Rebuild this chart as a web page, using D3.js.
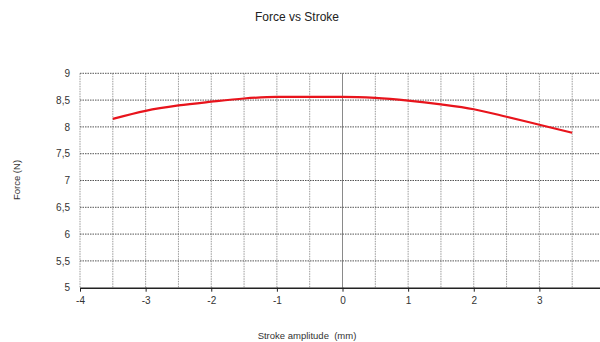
<!DOCTYPE html>
<html>
<head>
<meta charset="utf-8">
<script src="https://cdn.jsdelivr.net/npm/d3@7"></script>
<style>
  html, body { margin: 0; padding: 0; background: #fff; }
  svg { display: block; font-family: "Liberation Sans", Arial, sans-serif; }
</style>
</head>
<body>
<svg id="chart" width="600" height="342"></svg>
<script>
// Force measured across the stroke
const stroke = [-3.5, -3, -2.5, -2, -1.5, -1, -0.5, 0, 0.5, 1, 1.5, 2, 2.5, 3, 3.5];
const force  = [8.15, 8.30, 8.40, 8.47, 8.53, 8.56, 8.56, 8.56, 8.54, 8.49, 8.42, 8.33, 8.19, 8.04, 7.89];
const xTicks = [-4, -3, -2, -1, 0, 1, 2, 3];
const yTicks = [5, 5.5, 6, 6.5, 7, 7.5, 8, 8.5, 9];
const xGrid = d3.range(-4, 4.01, 0.5);

const svg = d3.select("#chart");
const x = d3.scaleLinear().domain([-4, 4]).range([80, 605]);
const y = d3.scaleLinear().domain([5, 9]).range([287.7, 73.3]);

const fmtY = d => String(d).replace(".", ",");

// grid
const grid = svg.append("g");
grid.selectAll("line.v").data(xGrid).join("line")
  .attr("x1", d => x(d)).attr("x2", d => x(d))
  .attr("y1", y(9)).attr("y2", y(5))
  .attr("stroke", d => d === 0 ? "#8a8a8a" : "#9a9a9a")
  .attr("stroke-width", 1)
  .attr("stroke-dasharray", d => d === 0 ? null : "1.5,1");
grid.selectAll("line.h").data(yTicks.filter(d => d !== 5)).join("line")
  .attr("x1", x(-4)).attr("x2", 600)
  .attr("y1", d => y(d)).attr("y2", d => y(d))
  .attr("stroke", "#555")
  .attr("stroke-width", 1)
  .attr("stroke-dasharray", "1.5,1");

// x axis
const xAxis = svg.append("g")
  .attr("transform", `translate(0,${y(5)})`)
  .call(d3.axisBottom(x).tickValues(xTicks).tickSize(4).tickSizeOuter(0).tickFormat(d => String(d)));
xAxis.select(".domain").attr("stroke", "#222").attr("stroke-width", 1.5);
xAxis.selectAll(".tick line").attr("stroke", "#222");
xAxis.selectAll(".tick text").attr("font-size", 10).attr("fill", "#333").attr("dy", "0.9em");

// y axis labels
const yAxis = svg.append("g")
  .attr("transform", `translate(${x(-4)},0)`)
  .call(d3.axisLeft(y).tickValues(yTicks).tickSize(0).tickPadding(10).tickFormat(fmtY));
yAxis.select(".domain").remove();
yAxis.selectAll(".tick text").attr("font-size", 10).attr("fill", "#333");

// force curve
svg.append("path")
  .datum(stroke.map((s, i) => [s, force[i]]))
  .attr("fill", "none")
  .attr("stroke", "#e8141c")
  .attr("stroke-width", 2.2)
  .attr("stroke-linejoin", "round")
  .attr("d", d3.line().x(d => x(d[0])).y(d => y(d[1])).curve(d3.curveMonotoneX));

// titles
svg.append("text").attr("x", 297).attr("y", 21).attr("text-anchor", "middle")
  .attr("font-size", 12).attr("fill", "#222").text("Force vs Stroke");
svg.append("text").attr("x", 307).attr("y", 339).attr("text-anchor", "middle")
  .attr("font-size", 9.5).attr("fill", "#333").attr("xml:space", "preserve")
  .text("Stroke amplitude  (mm)");
svg.append("text").attr("transform", "translate(20,180) rotate(-90)")
  .attr("text-anchor", "middle").attr("font-size", 9.5).attr("fill", "#333")
  .text("Force (N)");
</script>
</body>
</html>
